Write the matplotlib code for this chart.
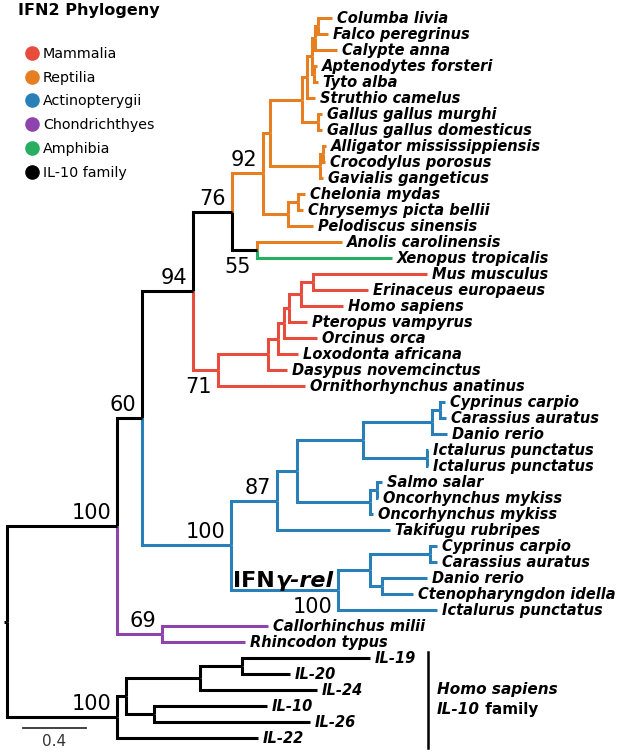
import matplotlib.pyplot as plt
from matplotlib.lines import Line2D
from matplotlib.offsetbox import TextArea, HPacker, VPacker, AnnotationBbox


# leaves, top to bottom (distance from root)
leaf_names = [
    'Columba livia', 'Falco peregrinus', 'Calypte anna', 'Aptenodytes forsteri',
    'Tyto alba', 'Struthio camelus', 'Gallus gallus murghi', 'Gallus gallus domesticus',
    'Alligator mississippiensis', 'Crocodylus porosus', 'Gavialis gangeticus',
    'Chelonia mydas', 'Chrysemys picta bellii', 'Pelodiscus sinensis',
    'Anolis carolinensis', 'Xenopus tropicalis',
    'Mus musculus', 'Erinaceus europaeus', 'Homo sapiens', 'Pteropus vampyrus',
    'Orcinus orca', 'Loxodonta africana', 'Dasypus novemcinctus', 'Ornithorhynchus anatinus',
    'Cyprinus carpio', 'Carassius auratus', 'Danio rerio', 'Ictalurus punctatus',
    'Ictalurus punctatus', 'Salmo salar', 'Oncorhynchus mykiss', 'Oncorhynchus mykiss',
    'Takifugu rubripes', 'Cyprinus carpio', 'Carassius auratus', 'Danio rerio',
    'Ctenopharyngdon idella', 'Ictalurus punctatus',
    'Callorhinchus milii', 'Rhincodon typus',
    'IL-19', 'IL-20', 'IL-24', 'IL-10', 'IL-26', 'IL-22',
]
leaf_depth = [
    2.063, 2.038, 2.095, 1.968, 1.975, 1.956, 2.000, 2.000, 2.025, 2.019, 2.006,
    1.892, 1.879, 1.943, 2.127, 2.444,
    2.667, 2.292, 2.133, 1.905, 1.968, 1.848, 1.778, 1.892,
    2.781, 2.787, 2.794, 2.673, 2.673, 2.381, 2.356, 2.324, 2.432,
    2.730, 2.730, 2.667, 2.578, 2.730,
    1.657, 1.511,
    2.305, 1.797, 1.968, 1.651, 1.924, 1.594,
]
leaf_group = ['rep'] * 15 + ['amp'] + ['mam'] * 8 + ['act'] * 14 + ['cho'] * 2 + ['il'] * 6

group_keys = ['mam', 'rep', 'act', 'cho', 'amp', 'il']
group_names = ['Mammalia', 'Reptilia', 'Actinopterygii', 'Chondrichthyes', 'Amphibia', 'IL-10 family']
group_colors = ['#E74C3C', '#E67E22', '#2980B9', '#8E44AD', '#27AE60', '#000000']
colors = dict(zip(group_keys, group_colors))

# internal nodes: children, depth, group
node_children = {
    'cf': [0, 1], 'cfc': ['cf', 2], 'at': [3, 4], 'neo1': ['cfc', 'at'], 'neo': ['neo1', 5],
    'gal': [6, 7], 'bird': ['neo', 'gal'], 'ac': [8, 9], 'croc': ['ac', 10],
    'arch': ['bird', 'croc'], 'cc': [11, 12], 'turt': ['cc', 13], 'n92': ['arch', 'turt'],
    'n55': [14, 15], 'n76': ['n92', 'n55'],
    'me': [16, 17], 'meh': ['me', 18], 'mp': ['meh', 19], 'mo': ['mp', 20], 'ml': ['mo', 21],
    'md': ['ml', 22], 'n71': ['md', 23], 'n94': ['n76', 'n71'],
    'fcc': [24, 25], 'fccd': ['fcc', 26], 'fii': [27, 28], 'fcyp': ['fccd', 'fii'],
    'fso': [29, 30], 'fsoo': ['fso', 31], 'fa': ['fcyp', 'fsoo'], 'f87': ['fa', 32],
    'gcc': [33, 34], 'gdc': [35, 36], 'ga': ['gcc', 'gdc'], 'g100': ['ga', 37],
    'f100': ['f87', 'g100'], 'n60': ['n94', 'f100'],
    'c69': [38, 39], 'n100': ['n60', 'c69'],
    'i1920': [40, 41], 'i1924': ['i1920', 42], 'i1026': [43, 44], 'ia': ['i1924', 'i1026'],
    'i100': ['ia', 45], 'root': ['n100', 'i100'],
}
node_depth = {
    'cf': 1.975, 'cfc': 1.956, 'at': 1.949, 'neo1': 1.937, 'neo': 1.905, 'gal': 1.975,
    'bird': 1.873, 'ac': 2.006, 'croc': 1.987, 'arch': 1.670, 'cc': 1.848, 'turt': 1.784,
    'n92': 1.625, 'n55': 1.587, 'n76': 1.429,
    'me': 1.943, 'meh': 1.867, 'mp': 1.790, 'mo': 1.759, 'ml': 1.721, 'md': 1.657,
    'n71': 1.340, 'n94': 1.181,
    'fcc': 2.749, 'fccd': 2.698, 'fii': 2.667, 'fcyp': 2.260, 'fso': 2.349, 'fsoo': 2.305,
    'fa': 1.841, 'f87': 1.714, 'gcc': 2.686, 'gdc': 2.381, 'ga': 2.305, 'g100': 2.102,
    'f100': 1.422, 'n60': 0.857, 'c69': 0.984, 'n100': 0.698,
    'i1920': 1.492, 'i1924': 1.225, 'i1026': 0.933, 'ia': 0.756, 'i100': 0.698, 'root': 0.0,
}
node_group = {n: 'rep' for n in ['cf', 'cfc', 'at', 'neo1', 'neo', 'gal', 'bird', 'ac',
                                  'croc', 'arch', 'cc', 'turt', 'n92']}
node_group.update({n: 'mam' for n in ['me', 'meh', 'mp', 'mo', 'ml', 'md', 'n71']})
node_group.update({n: 'act' for n in ['fcc', 'fccd', 'fii', 'fcyp', 'fso', 'fsoo', 'fa',
                                      'f87', 'gcc', 'gdc', 'ga', 'g100', 'f100']})
node_group['c69'] = 'cho'

# bootstrap support, and whether the label sits below the node
support = {'n92': 92, 'n76': 76, 'n55': 55, 'n94': 94, 'n71': 71, 'n60': 60, 'n100': 100,
           'f100': 100, 'f87': 87, 'g100': 100, 'c69': 69, 'i100': 100}
support_below = ['n55', 'n71', 'g100']

scale_len = 0.4
scale_x0 = 0.10
scale_y = 44.4
bracket_x = 2.673
bracket_span = [39.6, 45.6]


def pos(n):
    if isinstance(n, int):
        return leaf_depth[n], n
    ys = [pos(k)[1] for k in node_children[n]]
    return node_depth[n], (ys[0] + ys[-1]) / 2


def group_of(n):
    if isinstance(n, int):
        return leaf_group[n]
    return node_group.get(n, 'il')


# initial the figure
fig = plt.figure(figsize=(6.3, 7.54), dpi=100)
ax = fig.add_axes([0, 0, 1, 1])
ax.set_xlim(-0.0444, 3.956)
ax.set_ylim(46.0, -1.125)
ax.axis('off')

lw = 2.2
for n, kids in node_children.items():
    x, y = pos(n)
    for k in kids:
        kx, ky = pos(k)
        ax.plot([x, x, kx], [y, ky, ky], color=colors[group_of(k)], lw=lw,
                solid_capstyle='butt', solid_joinstyle='miter')

rx, ry = pos('root')
ax.plot([rx - 0.022, rx], [ry, ry], color='black', lw=lw, solid_capstyle='butt')

# leaf labels
for i, name in enumerate(leaf_names):
    ax.annotate(name, xy=(leaf_depth[i], i), xytext=(3.5, 0), textcoords='offset points',
                ha='left', va='center', fontsize=10.5, fontweight='bold', style='italic')

# support values
for n, s in support.items():
    x, y = pos(n)
    if n in support_below:
        ax.annotate(str(s), xy=(x, y), xytext=(-4.3, -5), textcoords='offset points',
                    ha='right', va='top', fontsize=15)
    else:
        ax.annotate(str(s), xy=(x, y), xytext=(-4.3, 5), textcoords='offset points',
                    ha='right', va='baseline', fontsize=15)

# IFNγ-rel label
gx, gy = pos('g100')
ifn = HPacker(children=[TextArea('IFN', textprops=dict(fontsize=16, fontweight='bold')),
                        TextArea('γ-rel', textprops=dict(fontsize=16, fontweight='bold',
                                                         style='italic'))],
              sep=0, pad=0, align='baseline')
ax.add_artist(AnnotationBbox(ifn, (gx, gy), xybox=(-3.5, -0.5), boxcoords='offset points',
                             box_alignment=(1, 0), frameon=False, pad=0))

# IL-10 family bracket
ax.plot([bracket_x, bracket_x], bracket_span, color='black', lw=1.8)
il_box = VPacker(children=[
    TextArea('Homo sapiens', textprops=dict(fontsize=11, fontweight='bold', style='italic')),
    HPacker(children=[TextArea('IL-10', textprops=dict(fontsize=11, fontweight='bold', style='italic')),
                      TextArea(' family', textprops=dict(fontsize=11, fontweight='bold'))],
            sep=0, pad=0, align='baseline')],
    sep=4, pad=0, align='left')
ax.add_artist(AnnotationBbox(il_box, (bracket_x, sum(bracket_span) / 2), xybox=(6.5, 0),
                             boxcoords='offset points', box_alignment=(0, 0.5),
                             frameon=False, pad=0))

# scale bar
ax.plot([scale_x0, scale_x0 + scale_len], [scale_y, scale_y], color='#333333', lw=1.3)
ax.annotate(f'{scale_len}', xy=(scale_x0 + scale_len / 2, scale_y), xytext=(0, -4),
            textcoords='offset points', ha='center', va='top', fontsize=11, color='#333333')

# title and legend
fig.text(18 / 630, 1 - 3 / 754, 'IFN2 Phylogeny', ha='left', va='top',
         fontsize=11.5, fontweight='bold')
handles = [Line2D([], [], ls='', marker='o', markersize=9.5, color=c, label=lab)
           for lab, c in zip(group_names, group_colors)]
fig.legend(handles=handles, loc='upper left', bbox_to_anchor=(25 / 630, 1 - 47 / 754),
           frameon=False, fontsize=10.3, handlelength=1, handletextpad=0.25,
           labelspacing=0.68, borderpad=0, borderaxespad=0)

fig.savefig('out.png', dpi=100)
